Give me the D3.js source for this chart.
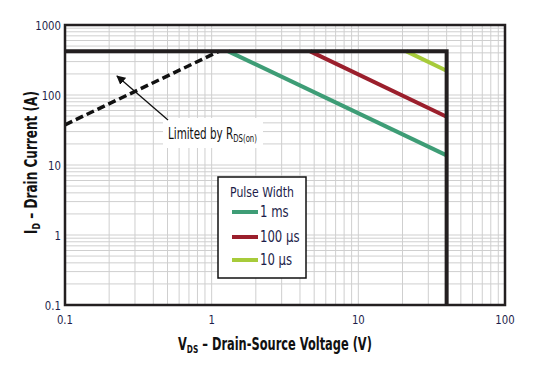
<!DOCTYPE html>
<html>
<head>
<meta charset="utf-8">
<script src="https://cdn.jsdelivr.net/npm/d3@7"></script>
<style>
  body { margin: 0; background: #fff; }
  text { font-family: "DejaVu Sans", sans-serif; white-space: pre; }
</style>
</head>
<body>
<svg id="chart" width="533" height="372"></svg>
<script>
// data
const xTicks = [0.1, 1, 10, 100];
const yTicks = [0.1, 1, 10, 100, 1000];
const limitV = [0.1, 40, 40];
const limitI = [420, 420, 0.1];
const rdsV = [0.1, 1.12];
const rdsI = [37.5, 420];
const pulseNames = ["1 ms", "100 µs", "10 µs"];
const pulseColors = ["#3e9d76", "#9b1f2c", "#a7cb3a"];
const pulseV = [[1.3, 40], [4.7, 40], [21.3, 40]];
const pulseI = [[420, 13.7], [420, 49], [420, 222]];

const margin = { top: 25, right: 28, bottom: 67, left: 65 };
const width = 533, height = 372;
const $svg = d3.select("#chart");
const squeeze = 0.78; // narrow face look

// a text run squeezed horizontally with a transform; returns its drawn width
function label($p, tx, ty, str, size, color, anchor = "start", weight = "normal", s = squeeze) {
  const $t = $p.append("text").attr("fill", color)
    .style("font-size", size + "px").style("font-weight", weight).text(str);
  const w = $t.node().getComputedTextLength() * s;
  const x0 = anchor === "middle" ? tx - w / 2 : anchor === "end" ? tx - w : tx;
  $t.attr("transform", `translate(${x0},${ty}) scale(${s},1)`);
  return w;
}
// several runs (for subscripts) fitted into a given width
function runs($p, tx, ty, parts, color, weight, fitWidth) {
  const $tmp = $p.append("g");
  let natural = 0;
  parts.forEach(p => {
    const $t = $tmp.append("text").style("font-size", p.size + "px").style("font-weight", weight).text(p.text);
    natural += $t.node().getComputedTextLength();
  });
  $tmp.remove();
  const s = fitWidth / natural;
  let cx = tx;
  parts.forEach(p => {
    cx += label($p, cx, ty + (p.dy || 0), p.text, p.size, color, "start", weight, s);
  });
}

const x = d3.scaleLog().domain([0.1, 100]).range([margin.left, width - margin.right]);
const y = d3.scaleLog().domain([0.1, 1000]).range([height - margin.bottom, margin.top]);

// grid
const $grid = $svg.append("g").attr("stroke", "#cfcfcf").attr("stroke-width", 1);
$grid.selectAll("line.v").data(x.ticks()).enter().append("line")
  .attr("x1", d => x(d)).attr("x2", d => x(d))
  .attr("y1", margin.top).attr("y2", height - margin.bottom);
$grid.selectAll("line.h").data(y.ticks()).enter().append("line")
  .attr("x1", margin.left).attr("x2", width - margin.right)
  .attr("y1", d => y(d)).attr("y2", d => y(d));

const line = d3.line().x(d => x(d[0])).y(d => y(d[1]));

// Rds(on) limit, dashed
$svg.append("path")
  .datum(rdsV.map((v, i) => [v, rdsI[i]]))
  .attr("d", line).attr("fill", "none")
  .attr("stroke", "#111").attr("stroke-width", 3.5)
  .attr("stroke-dasharray", "8,4");

// pulse width curves
pulseV.forEach((vs, k) => {
  $svg.append("path")
    .datum(vs.map((v, i) => [v, pulseI[k][i]]))
    .attr("d", line).attr("fill", "none")
    .attr("stroke", pulseColors[k]).attr("stroke-width", 4);
});

// package / voltage limit
$svg.append("path")
  .datum(limitV.map((v, i) => [v, limitI[i]]))
  .attr("d", line).attr("fill", "none")
  .attr("stroke", "#231f20").attr("stroke-width", 4)
  .attr("stroke-linejoin", "miter");

// frame
$svg.append("rect")
  .attr("x", margin.left).attr("y", margin.top)
  .attr("width", width - margin.left - margin.right)
  .attr("height", height - margin.top - margin.bottom)
  .attr("fill", "none").attr("stroke", "#231f20").attr("stroke-width", 2.5);

// tick labels
const tickColor = "#1d1d4a";
const $ticks = $svg.append("g");
xTicks.forEach(d => label($ticks, x(d), height - margin.bottom + 19, String(d), 13, tickColor, "middle"));
yTicks.forEach(d => label($ticks, margin.left - 4, y(d) + 5, String(d), 13, tickColor, "end"));

// axis titles
const titleColor = "#111";
runs($svg, 178, 350, [
  { text: "V", size: 17 },
  { text: "DS", size: 11, dy: 3 },
  { text: " – Drain-Source Voltage (V)", size: 17 }
], titleColor, "bold", 194);

const $yg = $svg.append("g").attr("transform", "translate(37,234) rotate(-90)");
runs($yg, 0, 0, [
  { text: "I", size: 17 },
  { text: "D", size: 11, dy: 3 },
  { text: " – Drain Current (A)", size: 17 }
], titleColor, "bold", 143);

// annotation
$svg.append("rect").attr("x", 163).attr("y", 118).attr("width", 100).attr("height", 30).attr("fill", "#fff");
$svg.append("defs").append("marker")
  .attr("id", "arrow").attr("viewBox", "0 0 10 10").attr("refX", 9).attr("refY", 5)
  .attr("markerWidth", 7).attr("markerHeight", 7).attr("orient", "auto")
  .append("path").attr("d", "M0,0 L10,5 L0,10 Z").attr("fill", "#111");
$svg.append("line")
  .attr("x1", 168).attr("y1", 120).attr("x2", 117).attr("y2", 76)
  .attr("stroke", "#111").attr("stroke-width", 1.3).attr("marker-end", "url(#arrow)");
runs($svg, 168, 139, [
  { text: "Limited by R", size: 15 },
  { text: "DS(on)", size: 10, dy: 3 }
], "#111", "normal", 89);

// legend
const $leg = $svg.append("g");
$leg.append("rect").attr("x", 218).attr("y", 177).attr("width", 88).attr("height", 101)
  .attr("fill", "#fff").attr("stroke", "#111").attr("stroke-width", 1.5);
label($leg, 262, 197, "Pulse Width", 14, tickColor, "middle");
const legY = [212, 237, 260];
pulseNames.forEach((name, k) => {
  $leg.append("line").attr("x1", 232).attr("x2", 258)
    .attr("y1", legY[k]).attr("y2", legY[k])
    .attr("stroke", pulseColors[k]).attr("stroke-width", 4);
  label($leg, 260, legY[k] + 5, name, 15, tickColor);
});
</script>
</body>
</html>
